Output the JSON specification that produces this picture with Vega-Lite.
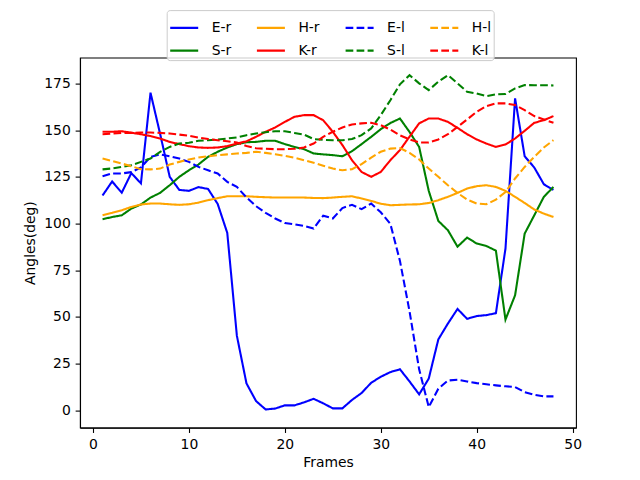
{
  "$schema": "https://vega.github.io/schema/vega-lite/v6.json",
  "width": 496,
  "height": 370,
  "autosize": {"type": "none"},
  "padding": {"left": 80, "top": 57.6, "right": 64, "bottom": 52.4},
  "background": "white",
  "config": {
    "font": "DejaVu Sans",
    "view": {"stroke": "black", "strokeWidth": 1.1},
    "axis": {
      "grid": false,
      "domainColor": "black",
      "domainWidth": 1.1,
      "tickColor": "black",
      "tickWidth": 1.1,
      "tickSize": 4.86,
      "labelPadding": 4.86,
      "labelFont": "DejaVu Sans",
      "labelFontSize": 13.9,
      "labelColor": "black",
      "titleFont": "DejaVu Sans",
      "titleFontSize": 13.9,
      "titleFontWeight": "normal",
      "titleColor": "black"
    },
    "legend": {
      "title": null,
      "orient": "none",
      "legendX": 86.7,
      "legendY": -47.5,
      "columns": 4,
      "gridAlign": "each",
      "columnPadding": 20.7,
      "rowPadding": -2.6,
      "symbolType": "stroke",
      "symbolSize": 784,
      "symbolStrokeWidth": 2.08,
      "labelOffset": 12,
      "labelFont": "DejaVu Sans",
      "labelFontSize": 13.9,
      "labelColor": "black",
      "labelLimit": 0,
      "padding": 2,
      "strokeColor": "#cccccc",
      "fillColor": "rgba(255,255,255,0.8)",
      "cornerRadius": 3
    }
  },
  "data": {
    "values": [
      {"f":1,"s":"E-r","v":115},{"f":2,"s":"E-r","v":122.5},{"f":3,"s":"E-r","v":116.5},{"f":4,"s":"E-r","v":127},{"f":5,"s":"E-r","v":121.5},{"f":6,"s":"E-r","v":170},{"f":7,"s":"E-r","v":148},{"f":8,"s":"E-r","v":125},
      {"f":9,"s":"E-r","v":118},{"f":10,"s":"E-r","v":117.5},{"f":11,"s":"E-r","v":119.5},{"f":12,"s":"E-r","v":118.5},{"f":13,"s":"E-r","v":110.5},{"f":14,"s":"E-r","v":95},{"f":15,"s":"E-r","v":40},{"f":16,"s":"E-r","v":14.5},
      {"f":17,"s":"E-r","v":5},{"f":18,"s":"E-r","v":0.5},{"f":19,"s":"E-r","v":1},{"f":20,"s":"E-r","v":2.7},{"f":21,"s":"E-r","v":2.7},{"f":22,"s":"E-r","v":4.3},{"f":23,"s":"E-r","v":6.2},{"f":24,"s":"E-r","v":3.8},
      {"f":25,"s":"E-r","v":1.1},{"f":26,"s":"E-r","v":1.1},{"f":27,"s":"E-r","v":5.6},{"f":28,"s":"E-r","v":9.3},{"f":29,"s":"E-r","v":14.8},{"f":30,"s":"E-r","v":18},{"f":31,"s":"E-r","v":20.5},{"f":32,"s":"E-r","v":22},
      {"f":33,"s":"E-r","v":15.5},{"f":34,"s":"E-r","v":8.6},{"f":35,"s":"E-r","v":17},{"f":36,"s":"E-r","v":38},{"f":37,"s":"E-r","v":46.5},{"f":38,"s":"E-r","v":54.3},{"f":39,"s":"E-r","v":49},{"f":40,"s":"E-r","v":50.5},
      {"f":41,"s":"E-r","v":51},{"f":42,"s":"E-r","v":52},{"f":43,"s":"E-r","v":86.6},{"f":44,"s":"E-r","v":167},{"f":45,"s":"E-r","v":136},{"f":46,"s":"E-r","v":130},{"f":47,"s":"E-r","v":121},{"f":48,"s":"E-r","v":118},

      {"f":1,"s":"S-r","v":102.3},{"f":2,"s":"S-r","v":103.5},{"f":3,"s":"S-r","v":104.4},{"f":4,"s":"S-r","v":108},{"f":5,"s":"S-r","v":110.2},{"f":6,"s":"S-r","v":113.9},{"f":7,"s":"S-r","v":116.4},{"f":8,"s":"S-r","v":120.5},
      {"f":9,"s":"S-r","v":125},{"f":10,"s":"S-r","v":128.5},{"f":11,"s":"S-r","v":131.6},{"f":12,"s":"S-r","v":135.7},{"f":13,"s":"S-r","v":138.4},{"f":14,"s":"S-r","v":140.7},{"f":15,"s":"S-r","v":142.5},{"f":16,"s":"S-r","v":143.5},
      {"f":17,"s":"S-r","v":143.7},{"f":18,"s":"S-r","v":144.3},{"f":19,"s":"S-r","v":144.3},{"f":20,"s":"S-r","v":142.5},{"f":21,"s":"S-r","v":141},{"f":22,"s":"S-r","v":139.8},{"f":23,"s":"S-r","v":137.5},{"f":24,"s":"S-r","v":137},
      {"f":25,"s":"S-r","v":136.6},{"f":26,"s":"S-r","v":136},{"f":27,"s":"S-r","v":138.7},{"f":28,"s":"S-r","v":142.5},{"f":29,"s":"S-r","v":146.4},{"f":30,"s":"S-r","v":150.5},{"f":31,"s":"S-r","v":153.8},{"f":32,"s":"S-r","v":156.2},
      {"f":33,"s":"S-r","v":149},{"f":34,"s":"S-r","v":141},{"f":35,"s":"S-r","v":117.5},{"f":36,"s":"S-r","v":101.4},{"f":37,"s":"S-r","v":96.4},{"f":38,"s":"S-r","v":87.6},{"f":39,"s":"S-r","v":92.5},{"f":40,"s":"S-r","v":89.3},
      {"f":41,"s":"S-r","v":88},{"f":42,"s":"S-r","v":85.5},{"f":43,"s":"S-r","v":48.6},{"f":44,"s":"S-r","v":61.6},{"f":45,"s":"S-r","v":94.6},{"f":46,"s":"S-r","v":104.4},{"f":47,"s":"S-r","v":114.3},{"f":48,"s":"S-r","v":119.6},

      {"f":1,"s":"H-r","v":104.4},{"f":2,"s":"H-r","v":105.7},{"f":3,"s":"H-r","v":107.1},{"f":4,"s":"H-r","v":108.9},{"f":5,"s":"H-r","v":110.2},{"f":6,"s":"H-r","v":110.7},{"f":7,"s":"H-r","v":110.7},{"f":8,"s":"H-r","v":110.3},
      {"f":9,"s":"H-r","v":110},{"f":10,"s":"H-r","v":110.3},{"f":11,"s":"H-r","v":111.2},{"f":12,"s":"H-r","v":112.5},{"f":13,"s":"H-r","v":113.6},{"f":14,"s":"H-r","v":114.6},{"f":15,"s":"H-r","v":114.6},{"f":16,"s":"H-r","v":114.6},
      {"f":17,"s":"H-r","v":114.3},{"f":18,"s":"H-r","v":114.1},{"f":19,"s":"H-r","v":113.9},{"f":20,"s":"H-r","v":113.9},{"f":21,"s":"H-r","v":113.9},{"f":22,"s":"H-r","v":113.9},{"f":23,"s":"H-r","v":113.7},{"f":24,"s":"H-r","v":113.6},
      {"f":25,"s":"H-r","v":113.9},{"f":26,"s":"H-r","v":114.3},{"f":27,"s":"H-r","v":114.6},{"f":28,"s":"H-r","v":113.4},{"f":29,"s":"H-r","v":112.1},{"f":30,"s":"H-r","v":110.6},{"f":31,"s":"H-r","v":109.8},{"f":32,"s":"H-r","v":110},
      {"f":33,"s":"H-r","v":110.2},{"f":34,"s":"H-r","v":110.3},{"f":35,"s":"H-r","v":111},{"f":36,"s":"H-r","v":112.5},{"f":37,"s":"H-r","v":114.3},{"f":38,"s":"H-r","v":116.4},{"f":39,"s":"H-r","v":118.7},{"f":40,"s":"H-r","v":120},
      {"f":41,"s":"H-r","v":120.5},{"f":42,"s":"H-r","v":119.6},{"f":43,"s":"H-r","v":117.5},{"f":44,"s":"H-r","v":114.3},{"f":45,"s":"H-r","v":111},{"f":46,"s":"H-r","v":107.5},{"f":47,"s":"H-r","v":105.3},{"f":48,"s":"H-r","v":103.5},

      {"f":1,"s":"K-r","v":149.1},{"f":2,"s":"K-r","v":149.1},{"f":3,"s":"K-r","v":149.4},{"f":4,"s":"K-r","v":148.6},{"f":5,"s":"K-r","v":147.8},{"f":6,"s":"K-r","v":146.8},{"f":7,"s":"K-r","v":145.5},{"f":8,"s":"K-r","v":143.7},
      {"f":9,"s":"K-r","v":142.5},{"f":10,"s":"K-r","v":141.4},{"f":11,"s":"K-r","v":140.7},{"f":12,"s":"K-r","v":140.5},{"f":13,"s":"K-r","v":140.7},{"f":14,"s":"K-r","v":141.4},{"f":15,"s":"K-r","v":142.8},{"f":16,"s":"K-r","v":144},
      {"f":17,"s":"K-r","v":146.4},{"f":18,"s":"K-r","v":149.1},{"f":19,"s":"K-r","v":151.4},{"f":20,"s":"K-r","v":154.4},{"f":21,"s":"K-r","v":157.1},{"f":22,"s":"K-r","v":158},{"f":23,"s":"K-r","v":158},{"f":24,"s":"K-r","v":155.3},
      {"f":25,"s":"K-r","v":149.1},{"f":26,"s":"K-r","v":142},{"f":27,"s":"K-r","v":133.9},{"f":28,"s":"K-r","v":127.6},{"f":29,"s":"K-r","v":125},{"f":30,"s":"K-r","v":127.6},{"f":31,"s":"K-r","v":133.9},{"f":32,"s":"K-r","v":139.3},
      {"f":33,"s":"K-r","v":146.5},{"f":34,"s":"K-r","v":153.6},{"f":35,"s":"K-r","v":156.2},{"f":36,"s":"K-r","v":156.2},{"f":37,"s":"K-r","v":154.4},{"f":38,"s":"K-r","v":151.2},{"f":39,"s":"K-r","v":147.8},{"f":40,"s":"K-r","v":145},
      {"f":41,"s":"K-r","v":142.8},{"f":42,"s":"K-r","v":141},{"f":43,"s":"K-r","v":142.3},{"f":44,"s":"K-r","v":145.5},{"f":45,"s":"K-r","v":149.6},{"f":46,"s":"K-r","v":153.9},{"f":47,"s":"K-r","v":155.3},{"f":48,"s":"K-r","v":157.5},

      {"f":1,"s":"E-l","v":125.3},{"f":2,"s":"E-l","v":126.8},{"f":3,"s":"E-l","v":126.8},{"f":4,"s":"E-l","v":127.5},{"f":5,"s":"E-l","v":130},{"f":6,"s":"E-l","v":135.7},{"f":7,"s":"E-l","v":137},{"f":8,"s":"E-l","v":136},
      {"f":9,"s":"E-l","v":134.8},{"f":10,"s":"E-l","v":133},{"f":11,"s":"E-l","v":130.3},{"f":12,"s":"E-l","v":128.5},{"f":13,"s":"E-l","v":126.8},{"f":14,"s":"E-l","v":122.3},{"f":15,"s":"E-l","v":119.6},{"f":16,"s":"E-l","v":114},
      {"f":17,"s":"E-l","v":109.3},{"f":18,"s":"E-l","v":105.7},{"f":19,"s":"E-l","v":102.7},{"f":20,"s":"E-l","v":100.3},{"f":21,"s":"E-l","v":99.6},{"f":22,"s":"E-l","v":98.7},{"f":23,"s":"E-l","v":97.3},{"f":24,"s":"E-l","v":104.2},
      {"f":25,"s":"E-l","v":102.7},{"f":26,"s":"E-l","v":108.3},{"f":27,"s":"E-l","v":110},{"f":28,"s":"E-l","v":107.7},{"f":29,"s":"E-l","v":110.7},{"f":30,"s":"E-l","v":106},{"f":31,"s":"E-l","v":99.8},{"f":32,"s":"E-l","v":80},
      {"f":33,"s":"E-l","v":53},{"f":34,"s":"E-l","v":22},{"f":35,"s":"E-l","v":1.8},{"f":36,"s":"E-l","v":11.6},{"f":37,"s":"E-l","v":16},{"f":38,"s":"E-l","v":16.4},{"f":39,"s":"E-l","v":15.5},{"f":40,"s":"E-l","v":14.6},
      {"f":41,"s":"E-l","v":14},{"f":42,"s":"E-l","v":13.4},{"f":43,"s":"E-l","v":12.9},{"f":44,"s":"E-l","v":12.5},{"f":45,"s":"E-l","v":9.8},{"f":46,"s":"E-l","v":8.4},{"f":47,"s":"E-l","v":7.5},{"f":48,"s":"E-l","v":7.5},

      {"f":1,"s":"S-l","v":129},{"f":2,"s":"S-l","v":129.5},{"f":3,"s":"S-l","v":130.3},{"f":4,"s":"S-l","v":131.2},{"f":5,"s":"S-l","v":133},{"f":6,"s":"S-l","v":134.8},{"f":7,"s":"S-l","v":138.4},{"f":8,"s":"S-l","v":141},
      {"f":9,"s":"S-l","v":142.8},{"f":10,"s":"S-l","v":143.2},{"f":11,"s":"S-l","v":144.3},{"f":12,"s":"S-l","v":144.6},{"f":13,"s":"S-l","v":145},{"f":14,"s":"S-l","v":145.5},{"f":15,"s":"S-l","v":146.1},{"f":16,"s":"S-l","v":147.3},
      {"f":17,"s":"S-l","v":148.2},{"f":18,"s":"S-l","v":148.9},{"f":19,"s":"S-l","v":149.4},{"f":20,"s":"S-l","v":149.4},{"f":21,"s":"S-l","v":148.5},{"f":22,"s":"S-l","v":147.6},{"f":23,"s":"S-l","v":145.2},{"f":24,"s":"S-l","v":144.8},
      {"f":25,"s":"S-l","v":144.6},{"f":26,"s":"S-l","v":144.6},{"f":27,"s":"S-l","v":145.2},{"f":28,"s":"S-l","v":147.3},{"f":29,"s":"S-l","v":150.9},{"f":30,"s":"S-l","v":158},{"f":31,"s":"S-l","v":166},{"f":32,"s":"S-l","v":174.5},
      {"f":33,"s":"S-l","v":179.4},{"f":34,"s":"S-l","v":175},{"f":35,"s":"S-l","v":171.4},{"f":36,"s":"S-l","v":175.9},{"f":37,"s":"S-l","v":179.4},{"f":38,"s":"S-l","v":175},{"f":39,"s":"S-l","v":170.5},{"f":40,"s":"S-l","v":169.6},
      {"f":41,"s":"S-l","v":168.2},{"f":42,"s":"S-l","v":169.1},{"f":43,"s":"S-l","v":169.3},{"f":44,"s":"S-l","v":172.3},{"f":45,"s":"S-l","v":174.1},{"f":46,"s":"S-l","v":174},{"f":47,"s":"S-l","v":174},{"f":48,"s":"S-l","v":173.9},

      {"f":1,"s":"H-l","v":134.8},{"f":2,"s":"H-l","v":133.5},{"f":3,"s":"H-l","v":132.1},{"f":4,"s":"H-l","v":130.7},{"f":5,"s":"H-l","v":129.1},{"f":6,"s":"H-l","v":129},{"f":7,"s":"H-l","v":129.4},{"f":8,"s":"H-l","v":131.6},
      {"f":9,"s":"H-l","v":133},{"f":10,"s":"H-l","v":134.3},{"f":11,"s":"H-l","v":135.3},{"f":12,"s":"H-l","v":136},{"f":13,"s":"H-l","v":136.6},{"f":14,"s":"H-l","v":137},{"f":15,"s":"H-l","v":137.5},{"f":16,"s":"H-l","v":137.8},
      {"f":17,"s":"H-l","v":138.4},{"f":18,"s":"H-l","v":137.8},{"f":19,"s":"H-l","v":137.1},{"f":20,"s":"H-l","v":136.2},{"f":21,"s":"H-l","v":135.2},{"f":22,"s":"H-l","v":133.9},{"f":23,"s":"H-l","v":132.5},{"f":24,"s":"H-l","v":130.9},
      {"f":25,"s":"H-l","v":129.4},{"f":26,"s":"H-l","v":128.5},{"f":27,"s":"H-l","v":129.1},{"f":28,"s":"H-l","v":131.8},{"f":29,"s":"H-l","v":135.3},{"f":30,"s":"H-l","v":138.4},{"f":31,"s":"H-l","v":140.1},{"f":32,"s":"H-l","v":140.4},
      {"f":33,"s":"H-l","v":137.8},{"f":34,"s":"H-l","v":134.3},{"f":35,"s":"H-l","v":129.4},{"f":36,"s":"H-l","v":125},{"f":37,"s":"H-l","v":120.5},{"f":38,"s":"H-l","v":116.4},{"f":39,"s":"H-l","v":112.8},{"f":40,"s":"H-l","v":110.7},
      {"f":41,"s":"H-l","v":110.3},{"f":42,"s":"H-l","v":112.8},{"f":43,"s":"H-l","v":116.9},{"f":44,"s":"H-l","v":124.1},{"f":45,"s":"H-l","v":130.3},{"f":46,"s":"H-l","v":135.7},{"f":47,"s":"H-l","v":140.7},{"f":48,"s":"H-l","v":144.6},

      {"f":1,"s":"K-l","v":147.8},{"f":2,"s":"K-l","v":148.2},{"f":3,"s":"K-l","v":148.5},{"f":4,"s":"K-l","v":148.5},{"f":5,"s":"K-l","v":148.7},{"f":6,"s":"K-l","v":148.7},{"f":7,"s":"K-l","v":148.5},{"f":8,"s":"K-l","v":148.2},
      {"f":9,"s":"K-l","v":147.6},{"f":10,"s":"K-l","v":147},{"f":11,"s":"K-l","v":146},{"f":12,"s":"K-l","v":145.2},{"f":13,"s":"K-l","v":144.6},{"f":14,"s":"K-l","v":144},{"f":15,"s":"K-l","v":143.4},{"f":16,"s":"K-l","v":141.5},
      {"f":17,"s":"K-l","v":140.3},{"f":18,"s":"K-l","v":140},{"f":19,"s":"K-l","v":139.8},{"f":20,"s":"K-l","v":139.8},{"f":21,"s":"K-l","v":140},{"f":22,"s":"K-l","v":140.7},{"f":23,"s":"K-l","v":142.8},{"f":24,"s":"K-l","v":146.4},
      {"f":25,"s":"K-l","v":149.1},{"f":26,"s":"K-l","v":151.4},{"f":27,"s":"K-l","v":153},{"f":28,"s":"K-l","v":153.6},{"f":29,"s":"K-l","v":153.9},{"f":30,"s":"K-l","v":152.6},{"f":31,"s":"K-l","v":150.3},{"f":32,"s":"K-l","v":147.2},
      {"f":33,"s":"K-l","v":145},{"f":34,"s":"K-l","v":143.4},{"f":35,"s":"K-l","v":143.4},{"f":36,"s":"K-l","v":145},{"f":37,"s":"K-l","v":147.8},{"f":38,"s":"K-l","v":151.7},{"f":39,"s":"K-l","v":155.7},{"f":40,"s":"K-l","v":159.8},
      {"f":41,"s":"K-l","v":162.8},{"f":42,"s":"K-l","v":164.3},{"f":43,"s":"K-l","v":164.3},{"f":44,"s":"K-l","v":163.4},{"f":45,"s":"K-l","v":160.7},{"f":46,"s":"K-l","v":157.5},{"f":47,"s":"K-l","v":155.7},{"f":48,"s":"K-l","v":153.9}
    ]
  },
  "mark": {"type": "line", "strokeWidth": 2.08},
  "encoding": {
    "x": {
      "field": "f",
      "type": "quantitative",
      "scale": {"domain": [-1.35, 50.35], "nice": false, "zero": false},
      "axis": {"values": [0, 10, 20, 30, 40, 50], "title": "Frames", "titlePadding": 4}
    },
    "y": {
      "field": "v",
      "type": "quantitative",
      "scale": {"domain": [-9.2, 188.8], "nice": false, "zero": false},
      "axis": {"values": [0, 25, 50, 75, 100, 125, 150, 175], "title": "Angles(deg)", "titlePadding": 6}
    },
    "color": {
      "field": "s",
      "type": "nominal",
      "scale": {
        "domain": ["E-r", "S-r", "H-r", "K-r", "E-l", "S-l", "H-l", "K-l"],
        "range": ["#0000ff", "#008000", "#ffa500", "#ff0000", "#0000ff", "#008000", "#ffa500", "#ff0000"]
      },
      "legend": {"title": null}
    },
    "strokeDash": {
      "field": "s",
      "type": "nominal",
      "scale": {
        "domain": ["E-r", "S-r", "H-r", "K-r", "E-l", "S-l", "H-l", "K-l"],
        "range": [[1, 0], [1, 0], [1, 0], [1, 0], [7.7, 3.3], [7.7, 3.3], [7.7, 3.3], [7.7, 3.3]]
      },
      "legend": {"title": null}
    }
  }
}
